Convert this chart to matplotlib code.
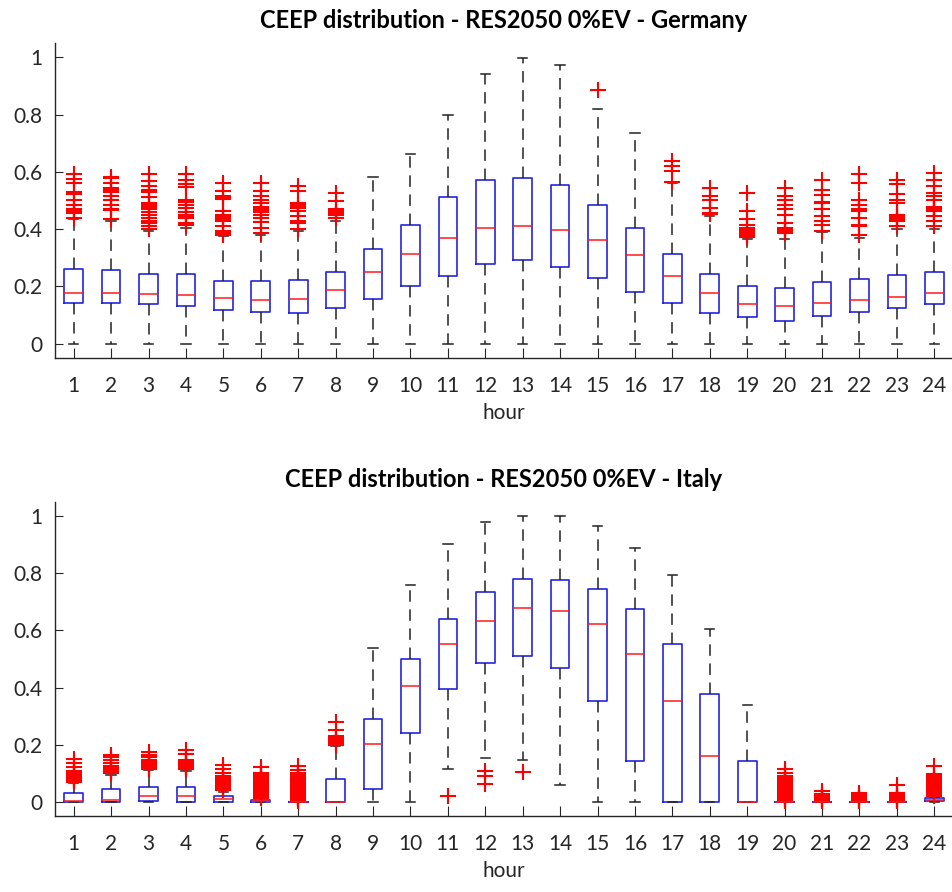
import matplotlib
matplotlib.use('Agg')
import matplotlib.pyplot as plt

hours = list(range(1, 25))
title_de = "CEEP distribution - RES2050 0%EV - Germany"
title_it = "CEEP distribution - RES2050 0%EV - Italy"
xlabel = "hour"
yticks = [0, 0.2, 0.4, 0.6, 0.8, 1]
ytick_labels = ["0", "0.2", "0.4", "0.6", "0.8", "1"]

# ---------------- Germany ----------------
de_q1 = [0.143, 0.143, 0.137, 0.131, 0.117, 0.112, 0.108, 0.123, 0.157, 0.203, 0.236, 0.277,
         0.291, 0.269, 0.230, 0.180, 0.143, 0.108, 0.093, 0.079, 0.097, 0.112, 0.126, 0.137]
de_med = [0.178, 0.178, 0.174, 0.170, 0.158, 0.152, 0.155, 0.186, 0.250, 0.312, 0.370, 0.405,
          0.410, 0.397, 0.362, 0.309, 0.238, 0.176, 0.137, 0.131, 0.141, 0.151, 0.163, 0.176]
de_q3 = [0.262, 0.257, 0.245, 0.242, 0.219, 0.219, 0.224, 0.250, 0.329, 0.414, 0.512, 0.570,
         0.577, 0.553, 0.483, 0.405, 0.312, 0.245, 0.201, 0.194, 0.215, 0.227, 0.241, 0.249]
de_lo = [0.0] * 24
de_hi = [0.435, 0.430, 0.395, 0.405, 0.375, 0.380, 0.395, 0.430, 0.583, 0.664, 0.797, 0.940,
         0.998, 0.974, 0.820, 0.736, 0.560, 0.445, 0.365, 0.365, 0.390, 0.370, 0.400, 0.400]
de_out = [
    [0.440, 0.455, 0.459, 0.465, 0.470, 0.486, 0.503, 0.521, 0.529, 0.562, 0.576, 0.591],
    [0.436, 0.466, 0.470, 0.486, 0.501, 0.515, 0.529, 0.535, 0.544, 0.562, 0.579, 0.582],
    [0.401, 0.410, 0.420, 0.428, 0.440, 0.448, 0.460, 0.469, 0.476, 0.483, 0.490, 0.513, 0.529, 0.536, 0.552, 0.567, 0.591],
    [0.413, 0.420, 0.440, 0.445, 0.448, 0.460, 0.474, 0.485, 0.494, 0.503, 0.548, 0.556, 0.573, 0.591],
    [0.381, 0.385, 0.393, 0.410, 0.428, 0.435, 0.440, 0.445, 0.450, 0.463, 0.505, 0.509, 0.515, 0.533, 0.562],
    [0.387, 0.405, 0.424, 0.440, 0.451, 0.460, 0.463, 0.467, 0.471, 0.476, 0.492, 0.503, 0.515, 0.533, 0.562],
    [0.400, 0.420, 0.428, 0.445, 0.463, 0.474, 0.480, 0.486, 0.492, 0.533, 0.550],
    [0.440, 0.448, 0.452, 0.457, 0.462, 0.471, 0.498, 0.527],
    [], [], [], [], [], [],
    [0.885],
    [],
    [0.566, 0.602, 0.620, 0.637],
    [0.453, 0.457, 0.474, 0.503, 0.515, 0.544],
    [0.373, 0.378, 0.381, 0.387, 0.393, 0.400, 0.405, 0.416, 0.434, 0.465, 0.527],
    [0.385, 0.389, 0.393, 0.396, 0.399, 0.404, 0.421, 0.451, 0.469, 0.486, 0.503, 0.515, 0.544],
    [0.395, 0.413, 0.430, 0.445, 0.469, 0.490, 0.494, 0.520, 0.538, 0.573],
    [0.380, 0.410, 0.416, 0.440, 0.463, 0.466, 0.469, 0.486, 0.503, 0.562, 0.591],
    [0.410, 0.428, 0.431, 0.434, 0.438, 0.442, 0.451, 0.492, 0.503, 0.521, 0.556, 0.573],
    [0.410, 0.428, 0.445, 0.463, 0.466, 0.469, 0.472, 0.474, 0.478, 0.503, 0.515, 0.527, 0.550, 0.573, 0.597],
]

# ---------------- Italy ----------------
it_q1 = [0.0, 0.0, 0.003, 0.0, 0.0, 0.0, 0.0, 0.0, 0.046, 0.240, 0.396, 0.485,
         0.512, 0.467, 0.354, 0.144, 0.0, 0.0, 0.0, 0.0, 0.0, 0.0, 0.0, 0.004]
it_med = [0.003, 0.005, 0.020, 0.020, 0.008, 0.002, 0.0, 0.0, 0.202, 0.406, 0.552, 0.634,
          0.679, 0.667, 0.624, 0.516, 0.354, 0.159, 0.0, 0.0, 0.0, 0.0, 0.0, 0.007]
it_q3 = [0.032, 0.043, 0.052, 0.052, 0.020, 0.006, 0.0, 0.079, 0.291, 0.500, 0.641, 0.734,
         0.781, 0.776, 0.746, 0.675, 0.552, 0.376, 0.141, 0.0, 0.0, 0.0, 0.0, 0.012]
it_lo = [0.0, 0.0, 0.0, 0.0, 0.0, 0.0, 0.0, 0.0, 0.0, 0.0, 0.116, 0.153,
         0.146, 0.058, 0.0, 0.0, 0.0, 0.0, 0.0, 0.0, 0.0, 0.0, 0.0, 0.0]
it_hi = [0.065, 0.095, 0.110, 0.108, 0.035, 0.012, 0.0, 0.195, 0.538, 0.759, 0.902, 0.979,
         1.000, 1.000, 0.967, 0.888, 0.796, 0.606, 0.338, 0.0, 0.0, 0.0, 0.0, 0.018]
it_out = [
    [0.068, 0.071, 0.074, 0.077, 0.080, 0.083, 0.086, 0.089, 0.092, 0.096, 0.100, 0.108, 0.120, 0.137, 0.150],
    [0.100, 0.103, 0.106, 0.109, 0.112, 0.115, 0.118, 0.121, 0.126, 0.135, 0.145, 0.155, 0.165],
    [0.116, 0.119, 0.122, 0.125, 0.128, 0.131, 0.134, 0.137, 0.140, 0.145, 0.155, 0.162, 0.175],
    [0.113, 0.116, 0.119, 0.122, 0.125, 0.128, 0.131, 0.134, 0.137, 0.140, 0.145, 0.168, 0.180],
    [0.040, 0.043, 0.046, 0.049, 0.052, 0.055, 0.058, 0.061, 0.064, 0.067, 0.070, 0.073, 0.076,
     0.079, 0.082, 0.085, 0.088, 0.091, 0.100, 0.115, 0.130],
    [0.014, 0.017, 0.020, 0.023, 0.026, 0.029, 0.032, 0.035, 0.038, 0.041, 0.044, 0.047, 0.050,
     0.053, 0.056, 0.059, 0.062, 0.065, 0.068, 0.071, 0.074, 0.077, 0.080, 0.083, 0.086, 0.089,
     0.092, 0.100, 0.120],
    [0.002, 0.005, 0.008, 0.011, 0.014, 0.017, 0.020, 0.023, 0.026, 0.029, 0.032, 0.035, 0.038,
     0.041, 0.044, 0.047, 0.050, 0.053, 0.056, 0.059, 0.062, 0.065, 0.068, 0.071, 0.074, 0.077,
     0.080, 0.083, 0.086, 0.089, 0.092, 0.100, 0.110, 0.125],
    [0.200, 0.205, 0.210, 0.214, 0.218, 0.222, 0.226, 0.230, 0.250, 0.280],
    [], [],
    [0.020],
    [0.061, 0.091, 0.108],
    [0.105],
    [], [], [], [], [], [],
    [0.002, 0.005, 0.008, 0.011, 0.014, 0.017, 0.020, 0.023, 0.026, 0.029, 0.032, 0.035, 0.038,
     0.041, 0.044, 0.047, 0.050, 0.053, 0.056, 0.059, 0.062, 0.065, 0.068, 0.071, 0.074, 0.077,
     0.080, 0.083, 0.086, 0.089, 0.100, 0.114],
    [0.002, 0.005, 0.008, 0.011, 0.014, 0.017, 0.020, 0.023, 0.026, 0.036],
    [0.002, 0.005, 0.008, 0.011, 0.014, 0.017, 0.020, 0.023, 0.032],
    [0.002, 0.005, 0.008, 0.011, 0.014, 0.017, 0.020, 0.023, 0.026, 0.029, 0.032, 0.060],
    [0.020, 0.023, 0.026, 0.029, 0.032, 0.035, 0.038, 0.041, 0.044, 0.047, 0.050, 0.053, 0.056,
     0.059, 0.062, 0.065, 0.068, 0.071, 0.074, 0.077, 0.080, 0.083, 0.086, 0.089, 0.098, 0.125],
]

FONT = ['Lato', 'DejaVu Sans']
plt.rcParams['font.family'] = FONT
AX_COLOR = '#262626'


def build_stats(q1, med, q3, lo, hi, out):
    return [dict(q1=a, med=b, q3=c, whislo=d, whishi=e, fliers=f)
            for a, b, c, d, e, f in zip(q1, med, q3, lo, hi, out)]


def draw(ax, stats, title):
    ax.bxp(stats, positions=hours, widths=0.5, capwidths=0.25,
           boxprops=dict(color='#2424e0', linewidth=1.2),
           medianprops=dict(color='#ff1a1a', linewidth=1.1),
           whiskerprops=dict(color='#222222', linewidth=1.1, linestyle=(0, (7.5, 5))),
           capprops=dict(color='#222222', linewidth=1.1),
           flierprops=dict(marker='+', markeredgecolor='#ff0000', markersize=11,
                           markeredgewidth=1.5, linestyle='none'))
    ax.set_xlim(0.5, 24.5)
    ax.set_ylim(-0.05, 1.05)
    ax.set_yticks(yticks)
    ax.set_yticklabels(ytick_labels)
    ax.set_xticks(hours)
    ax.set_xticklabels([str(h) for h in hours])
    for s in ['top', 'right']:
        ax.spines[s].set_visible(False)
    for s in ['left', 'bottom']:
        ax.spines[s].set_color(AX_COLOR)
        ax.spines[s].set_linewidth(1.0)
    ax.tick_params(axis='y', direction='in', length=6, pad=9, labelsize=15,
                   colors=AX_COLOR)
    ax.tick_params(axis='x', direction='in', length=7, pad=13, labelsize=15,
                   colors=AX_COLOR)
    ax.set_xlabel(xlabel, fontsize=15, color=AX_COLOR, labelpad=5)
    ax.set_title(title, fontsize=17, fontweight='bold', color='black', pad=11)


fig = plt.figure(figsize=(9.53, 8.92), dpi=100)
ax1 = fig.add_axes([55 / 953, 1 - 358 / 892, 1 - 55 / 953, (358 - 43) / 892])
ax2 = fig.add_axes([55 / 953, 1 - 816 / 892, 1 - 55 / 953, (816 - 502) / 892])
draw(ax1, build_stats(de_q1, de_med, de_q3, de_lo, de_hi, de_out), title_de)
draw(ax2, build_stats(it_q1, it_med, it_q3, it_lo, it_hi, it_out), title_it)
fig.savefig('out.png', dpi=100)
